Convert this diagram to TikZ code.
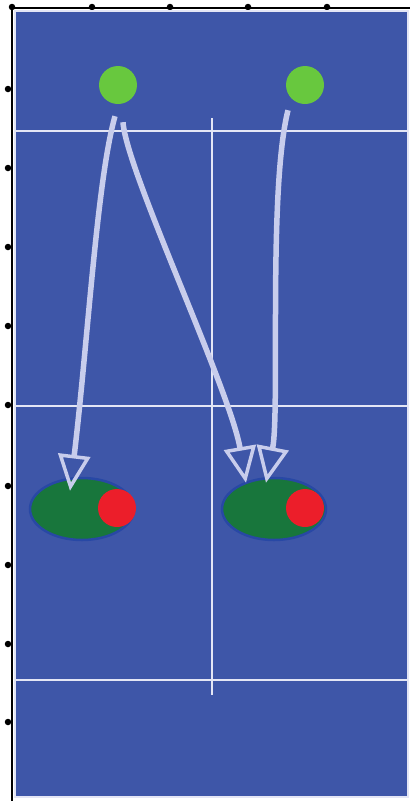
\documentclass[tikz,border=0pt]{standalone}
\usetikzlibrary{arrows.meta,shapes.geometric}
\definecolor{court}{RGB}{62,86,168}
\definecolor{courtline}{RGB}{228,230,245}
\definecolor{arrowc}{RGB}{200,205,236}
\definecolor{dotgreen}{RGB}{104,200,62}
\definecolor{cellgreen}{RGB}{24,118,60}
\definecolor{halo}{RGB}{40,72,165}
\definecolor{blobred}{RGB}{236,30,42}
\begin{document}
\begin{tikzpicture}[x=1pt,y=-1pt,
  seed/.style={circle, fill=dotgreen, minimum size=38pt, inner sep=0pt},
  cell/.style={ellipse, fill=cellgreen, draw=halo, line width=2.5pt, minimum width=104pt, minimum height=62pt, inner sep=0pt},
  blob/.style={circle, fill=blobred, minimum size=38pt, inner sep=0pt},
  trail/.style={draw=arrowc, line width=5.5pt, -{Triangle[open, length=36pt, width=32pt, line width=3.5pt]}},
  courtline/.style={draw=courtline, line width=2pt},
  tickdot/.style={circle, fill=black, minimum size=6.5pt, inner sep=0pt}
]
\useasboundingbox (0,0) rectangle (410,801);
% frame
\draw[line width=2.5pt] (12,801) -- (12,8) -- (410,8);
\foreach \x [count=\i] in {12,92,170,248,327} \node[tickdot] (tx\i) at (\x,7) {};
\foreach \y [count=\i] in {89,168,247,326,405,486,565,644,722} \node[tickdot] (ty\i) at (8,\y) {};
% court
\fill[court] (15,11) rectangle (409,798);
\draw[courtline, line width=1.5pt] (15,11) rectangle (408,797);
\draw[courtline] (15,131) -- (408,131);
\draw[courtline] (15,406) -- (408,406);
\draw[courtline] (15,680) -- (408,680);
\draw[courtline] (212,118) -- (212,695);
% seeds
\node[seed] (s1) at (118,85) {};
\node[seed] (s2) at (305,85) {};
% cells
\node[cell] (c1) at (82,509) {};
\node[blob] (r1) at (117,508) {};
\node[cell] (c2) at (274,509) {};
\node[blob] (r2) at (305,508) {};
% trail end points
\coordinate (a1) at ([xshift=-3pt,yshift=-12pt]s1.south);
\coordinate (b1) at ([xshift=-12pt,yshift=-14pt]c1.north);
\coordinate (a2) at ([xshift=5pt,yshift=-18pt]s1.south);
\coordinate (b2) at ([xshift=-28pt,yshift=-6pt]c2.north);
\coordinate (a3) at ([xshift=-17pt,yshift=-6pt]s2.south);
\coordinate (b3) at ([xshift=-8pt,yshift=-6pt]c2.north);
% trails
\draw[trail] (a1) .. controls (97,180) and (88,340) .. (b1);
\draw[trail] (a2) .. controls (126,170) and (230,390) .. (b2);
\draw[trail] (a3) .. controls (268,190) and (280,410) .. (b3);
\end{tikzpicture}
\end{document}
